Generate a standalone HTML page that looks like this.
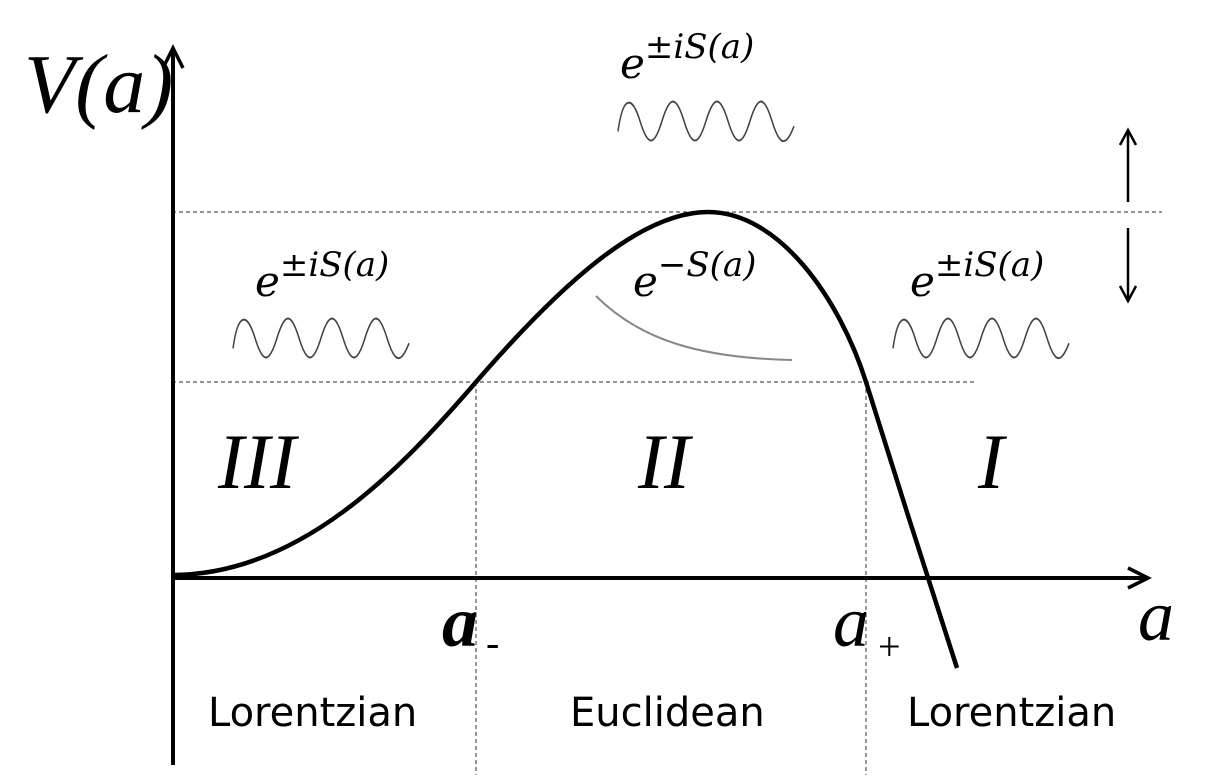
<!DOCTYPE html>
<html><head><style>
html,body{margin:0;padding:0;background:#fff;}
svg{display:block;}
.ser{font-family:"Liberation Serif",serif;font-style:italic;}
.sans{font-family:"DejaVu Sans","Liberation Sans",sans-serif;}
</style></head><body>
<svg width="1213" height="783" viewBox="0 0 1213 783" xmlns="http://www.w3.org/2000/svg">
<g stroke="#555" stroke-width="1.2" stroke-dasharray="4,3" fill="none">
<line x1="172" y1="212" x2="1162" y2="212"/>
<line x1="172" y1="382" x2="975" y2="382"/>
<line x1="476" y1="382" x2="476" y2="775"/>
<line x1="866" y1="382" x2="866" y2="775"/>
</g>
<g stroke="#000" stroke-width="4" fill="none">
<line x1="173" y1="50" x2="173" y2="765"/>
<polyline points="163,68 173,48 183,68" stroke-width="3.5"/>
<line x1="172" y1="578" x2="1146" y2="578"/>
<polyline points="1128,568 1148,578 1128,588" stroke-width="3.5"/>
</g>
<path d="M172,575 C300,575 400,470 476,382 C560,285 640,212 708,212 C780,212 840,300 866,382 C890,460 935,600 957,668" stroke="#000" stroke-width="4.5" fill="none"/>
<path d="M596,296 C640,340 700,358 792,360" stroke="#888" stroke-width="2" fill="none"/>
<g stroke="#000" stroke-width="2.5" fill="none">
<line x1="1128" y1="132" x2="1128" y2="202"/>
<polyline points="1120,145 1128,130 1136,145"/>
<line x1="1128" y1="228" x2="1128" y2="300"/>
<polyline points="1120,286 1128,301 1136,286"/>
</g>
<g stroke="#444" stroke-width="1.5" fill="none">
<path transform="translate(618,95) scale(1,1.3)" d="M0,28 C5,0 14,0 22,20 S36,40 44,20 S58,0 66,20 S80,40 88,20 S102,0 110,20 S124,40 132,20 S146,0 154,20 S168,40 176,24"/>
<path transform="translate(233,312) scale(1,1.3)" d="M0,28 C5,0 14,0 22,20 S36,40 44,20 S58,0 66,20 S80,40 88,20 S102,0 110,20 S124,40 132,20 S146,0 154,20 S168,40 176,24"/>
<path transform="translate(893,312) scale(1,1.3)" d="M0,28 C5,0 14,0 22,20 S36,40 44,20 S58,0 66,20 S80,40 88,20 S102,0 110,20 S124,40 132,20 S146,0 154,20 S168,40 176,24"/>
</g>
<g font-family="DejaVu Serif, Liberation Serif, serif" font-style="italic" fill="#000">
<text x="620" y="78" font-size="42">e<tspan dy="-20" font-size="34">±iS(a)</tspan></text>
<text x="255" y="296" font-size="42">e<tspan dy="-20" font-size="34">±iS(a)</tspan></text>
<text x="910" y="296" font-size="42">e<tspan dy="-20" font-size="34">±iS(a)</tspan></text>
<text x="633" y="296" font-size="42">e<tspan dy="-20" font-size="34">−S(a)</tspan></text>
</g>
<g class="ser" fill="#000">
<text x="24" y="112" font-size="84">V(a)</text>
<text x="218" y="488" font-size="78">III</text>
<text x="638" y="488" font-size="78">II</text>
<text x="978" y="488" font-size="78">I</text>
<text x="442" y="646" font-size="72" font-weight="bold">a</text>
<text x="486" y="656" font-size="40" font-style="normal">-</text>
<text x="833" y="646" font-size="72">a</text>
<text x="878" y="660" font-size="40" font-style="normal">+</text>
<text x="1138" y="640" font-size="72">a</text>
</g>
<g class="sans" font-size="40" fill="#000">
<text x="208" y="726">Lorentzian</text>
<text x="570" y="726">Euclidean</text>
<text x="907" y="726">Lorentzian</text>
</g>
</svg>
</body></html>
